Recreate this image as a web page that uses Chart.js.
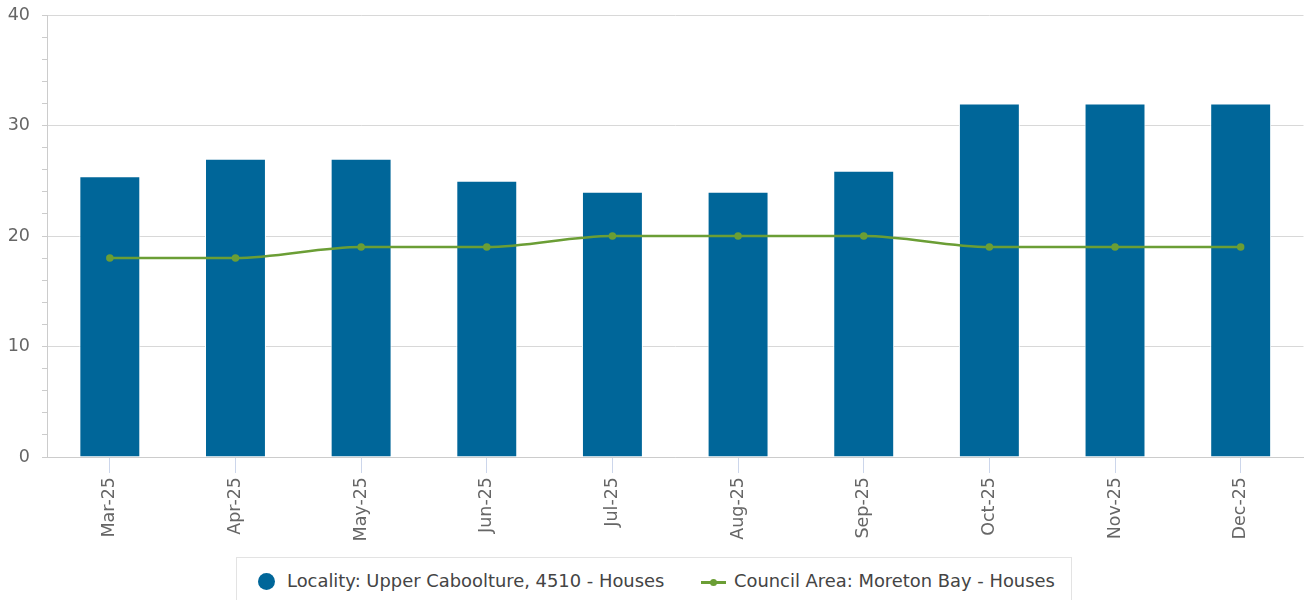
<!DOCTYPE html>
<html>
<head>
<meta charset="utf-8">
<script src="https://cdn.jsdelivr.net/npm/chart.js@4"></script>
<style>
    html, body { margin: 0; padding: 0; background: #fff; }
    #wrap { position: relative; width: 1306px; height: 600px; overflow: hidden; }
    #box { position: absolute; left: 0; top: 0; width: 1310px; height: 550px; }
    #legend {
        position: absolute; left: 236px; top: 557px; width: 836px; height: 60px;
        border: 1px solid #e3e3e3; box-sizing: border-box;
        font-family: "DejaVu Sans", sans-serif; font-size: 17.9px; color: #444;
    }
    .item { position: absolute; top: 12px; white-space: nowrap; }
    .dot { position: absolute; left: 21px; top: 15px; width: 17px; height: 17px; border-radius: 50%; background: #006699; }
    .ln { position: absolute; left: 464px; top: 23px; width: 25px; height: 3px; background: #6b9e35; }
    .ln::after { content: ""; position: absolute; left: 9px; top: -2px; width: 7px; height: 7px; border-radius: 50%; background: #6b9e35; }
</style>
</head>
<body>
<div id="wrap">
    <div id="box"><canvas id="chart"></canvas></div>
    <div id="legend">
        <div class="dot"></div>
        <div class="item" style="left:50px">Locality: Upper Caboolture, 4510 - Houses</div>
        <div class="ln"></div>
        <div class="item" style="left:497px">Council Area: Moreton Bay - Houses</div>
    </div>
</div>
<script>
const months = ["Mar-25", "Apr-25", "May-25", "Jun-25", "Jul-25", "Aug-25", "Sep-25", "Oct-25", "Nov-25", "Dec-25"];
const localityHouses = [25.4, 27, 27, 25, 24, 24, 25.9, 32, 32, 32];
const councilHouses = [18, 18, 19, 19, 20, 20, 20, 19, 19, 19];

const BLUE = "#006699";
const GREEN = "#6b9e35";

new Chart(document.getElementById("chart"), {
    type: "bar",
    data: {
        labels: months,
        datasets: [
            {
                type: "line",
                label: "Council Area: Moreton Bay - Houses",
                data: councilHouses,
                borderColor: GREEN,
                backgroundColor: GREEN,
                borderWidth: 2.5,
                pointRadius: 2.5,
                cubicInterpolationMode: "monotone",
                order: 0
            },
            {
                label: "Locality: Upper Caboolture, 4510 - Houses",
                data: localityHouses,
                backgroundColor: BLUE,
                borderColor: "#ffffff",
                borderWidth: 1,
                barPercentage: 0.485,
                categoryPercentage: 1,
                order: 1
            }
        ]
    },
    options: {
        responsive: true,
        maintainAspectRatio: false,
        animation: false,
        layout: { padding: { top: 15, right: 0, left: 0, bottom: 0 } },
        plugins: {
            legend: { display: false },
            tooltip: { enabled: false }
        },
        scales: {
            x: {
                afterFit: s => { s.height = 93; s.paddingLeft = 0; s.paddingRight = 0; },
                grid: {
                    offset: false,
                    drawOnChartArea: false,
                    tickColor: "#ccd6eb",
                    tickLength: 16
                },
                border: { color: "#cccccc", width: 1 },
                ticks: {
                    minRotation: 90,
                    maxRotation: 90,
                    padding: 4,
                    color: "#666666",
                    font: { family: "DejaVu Sans", size: 17.5 }
                }
            },
            y: {
                min: 0,
                max: 40,
                afterFit: s => { s.width = 47; s.paddingTop = 0; s.paddingBottom = 0; },
                grid: {
                    color: c => (c.tick && c.tick.value % 10 === 0) ? "#d8d8d8" : "rgba(0,0,0,0)",
                    tickColor: "#cccccc",
                    tickLength: 5
                },
                border: { color: "#cccccc", width: 1 },
                ticks: {
                    stepSize: 2,
                    autoSkip: false,
                    padding: 12,
                    color: "#666666",
                    font: { family: "DejaVu Sans", size: 17.5 },
                    callback: v => v % 10 === 0 ? v : ""
                }
            }
        }
    }
});
</script>
</body>
</html>
